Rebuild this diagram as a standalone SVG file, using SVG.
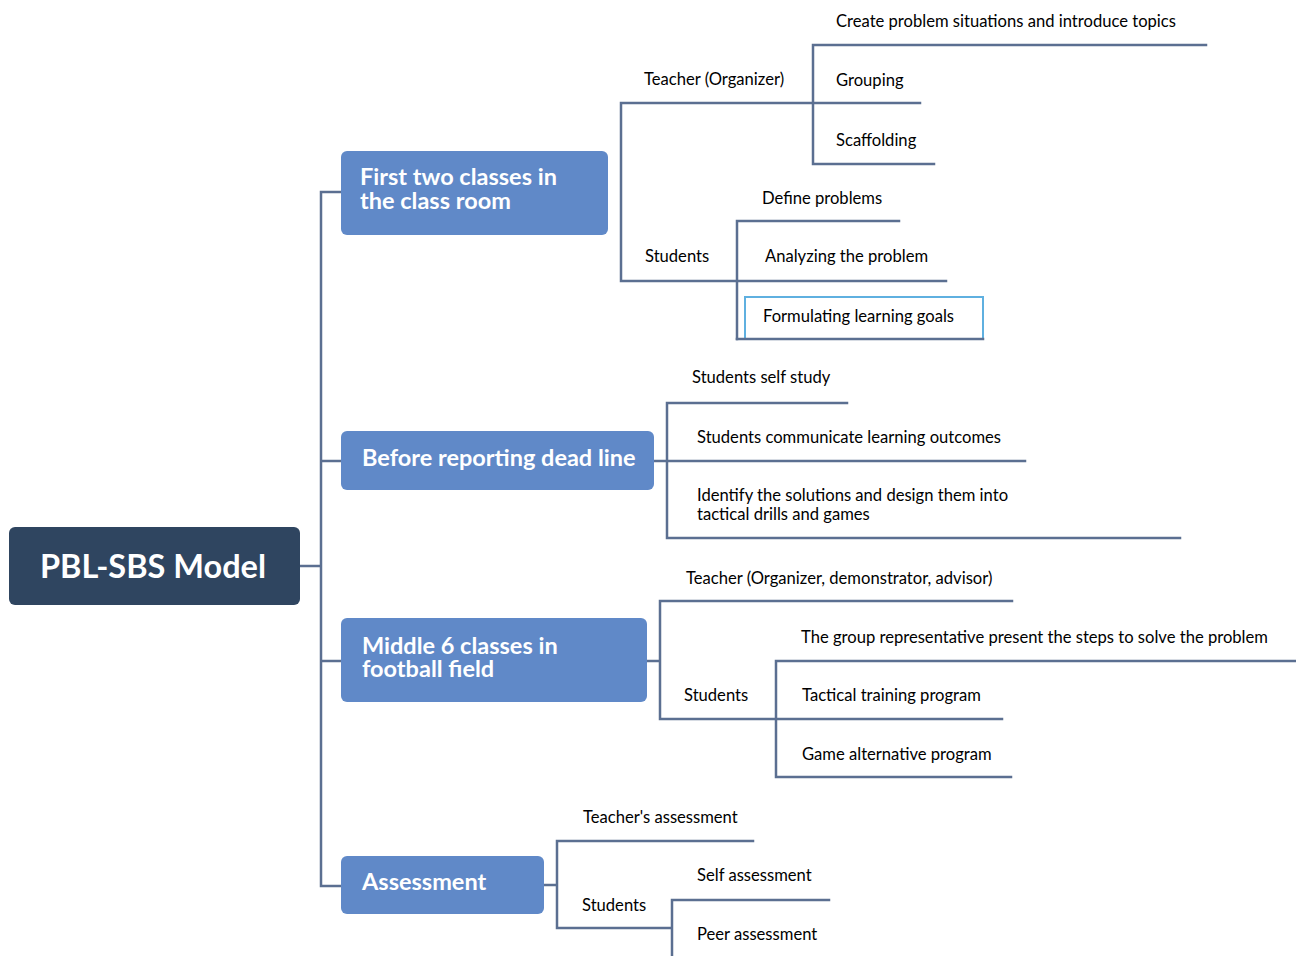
<svg xmlns="http://www.w3.org/2000/svg" width="1296" height="956" viewBox="0 0 1296 956">
<style>
.ln{stroke:#5b6f91;stroke-width:2.5;fill:none;stroke-linecap:square}
.t{font-family:Lato,"Open Sans","Liberation Sans",sans-serif;font-size:16.6px;fill:#000}
.b{font-family:Lato,"Open Sans","Liberation Sans",sans-serif;font-weight:bold;font-size:23.5px;fill:#fff}
.box{fill:#6089c8}
</style>
<rect width="1296" height="956" fill="#fff"/>
<g id="connectors">
<path class="ln" d="M300 566H321M321 192V886M321 192H341M321 461H341M321 661H341M321 886H341"/>
<path class="ln" d="M621 103V281M621 103H920M813 45V164M813 45H1206M813 164H934M621 281H946M737 221V339M737 221H899"/>
<path class="ln" d="M654 461H1025M667 403V538M667 403H847M667 538H1180"/>
<path class="ln" d="M647 661H660M660 601V719M660 601H1012M660 719H1002M776 661V777M776 661H1296M776 777H1011"/>
<path class="ln" d="M544 885H557M557 841V928M557 841H753M557 928H672M672 900V956M672 900H829"/>
</g>
<g id="root"><rect x="9" y="527" width="291" height="78" rx="6" fill="#2f4560"/><text x="153" y="578" text-anchor="middle" font-family="Lato,'Open Sans','Liberation Sans',sans-serif" font-weight="bold" font-size="32.5" fill="#fff">PBL-SBS Model</text></g>
<g id="n1"><rect class="box" x="341" y="151" width="267" height="84" rx="6"/><text class="b"><tspan x="360" y="185">First two classes in</tspan><tspan x="360" y="209">the class room</tspan></text></g>
<g id="n2"><rect class="box" x="341" y="431" width="313" height="59" rx="6"/><text class="b" x="362" y="466">Before reporting dead line</text></g>
<g id="n3"><rect class="box" x="341" y="618" width="306" height="84" rx="6"/><text class="b"><tspan x="362" y="654">Middle 6 classes in</tspan><tspan x="362" y="677">football field</tspan></text></g>
<g id="n4"><rect class="box" x="341" y="856" width="203" height="58" rx="6"/><text class="b" x="362" y="890">Assessment</text></g>
<g id="n1a"><text class="t" x="644" y="85">Teacher (Organizer)</text></g>
<g id="n1a1"><text class="t" x="836" y="27">Create problem situations and introduce topics</text></g>
<g id="n1a2"><text class="t" x="836" y="86">Grouping</text></g>
<g id="n1a3"><text class="t" x="836" y="146">Scaffolding</text></g>
<g id="n1b"><text class="t" x="645" y="262">Students</text></g>
<g id="n1b1"><text class="t" x="762" y="204">Define problems</text></g>
<g id="n1b2"><text class="t" x="765" y="262">Analyzing the problem</text></g>
<g id="n1b3"><rect x="745" y="297" width="238" height="42" fill="none" stroke="#5fb0e0" stroke-width="2"/><path class="ln" d="M737 339H983"/><text class="t" x="763" y="322">Formulating learning goals</text></g>
<g id="n2a"><text class="t" x="692" y="383">Students self study</text></g>
<g id="n2b"><text class="t" x="697" y="443">Students communicate learning outcomes</text></g>
<g id="n2c"><text class="t"><tspan x="697" y="501">Identify the solutions and design them into</tspan><tspan x="697" y="520">tactical drills and games</tspan></text></g>
<g id="n3a"><text class="t" x="686" y="584">Teacher (Organizer, demonstrator, advisor)</text></g>
<g id="n3b"><text class="t" x="684" y="701">Students</text></g>
<g id="n3b1"><text class="t" x="801" y="643">The group representative present the steps to solve the problem</text></g>
<g id="n3b2"><text class="t" x="802" y="701">Tactical training program</text></g>
<g id="n3b3"><text class="t" x="802" y="760">Game alternative program</text></g>
<g id="n4a"><text class="t" x="583" y="823">Teacher's assessment</text></g>
<g id="n4b"><text class="t" x="582" y="911">Students</text></g>
<g id="n4b1"><text class="t" x="697" y="881">Self assessment</text></g>
<g id="n4b2"><text class="t" x="697" y="940">Peer assessment</text></g>
</svg>
